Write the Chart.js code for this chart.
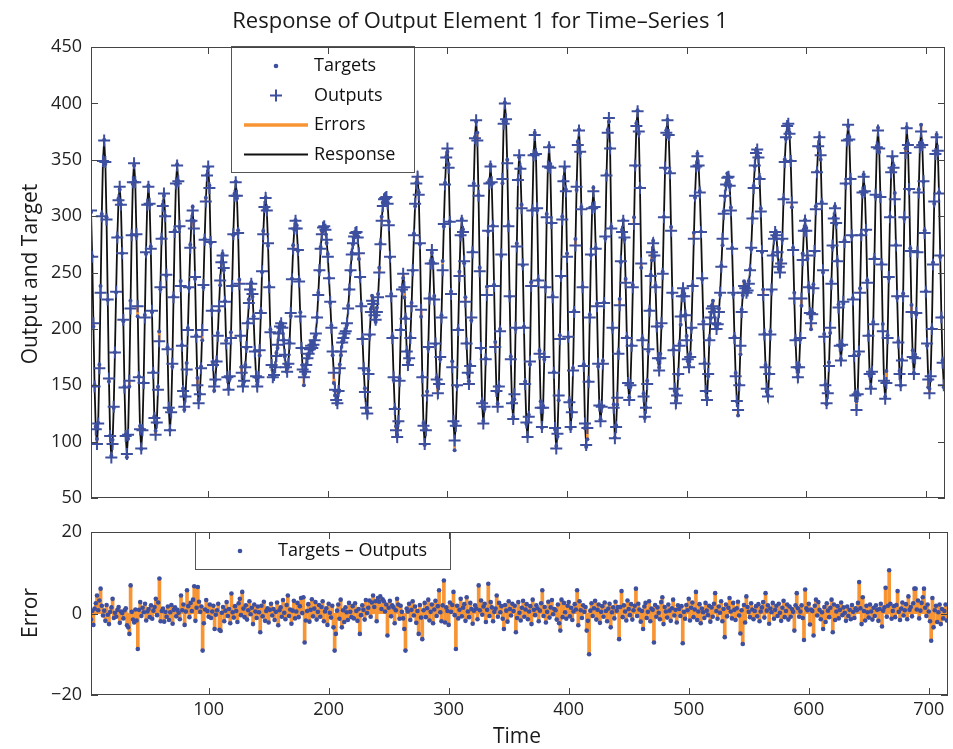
<!DOCTYPE html>
<html>
<head>
<meta charset="utf-8">
<title>Response of Output Element 1 for Time-Series 1</title>
<script src="https://cdn.jsdelivr.net/npm/chart.js@4.4.1/dist/chart.umd.min.js"></script>
<style>
  html, body { margin: 0; padding: 0; background: #fff; }
  #wrap { position: relative; width: 953px; height: 749px; }
  #wrap canvas { position: absolute; left: 0; top: 0; }
</style>
</head>
<body>
<div id="wrap">
  <canvas id="responseChart" width="953" height="749"></canvas>
  <canvas id="errorChart" width="953" height="749"></canvas>
</div>
<script>
const FONT = "'Open Sans', 'DejaVu Sans', sans-serif";
const BLUE = "#3d4f9f";
const ORANGE = "#f79433";

// time of the first sample
const firstTime = 2;

// network outputs, one per time step
const outputs = [
  305, 264, 205, 149, 111, 98,
  116, 165, 232, 300, 349, 367,
  348, 297, 226, 156, 105, 86,
  98, 131, 179, 233, 281, 314, 326,
  310, 267, 208, 148, 105, 89,
  106, 154, 218, 283, 330, 347,
  330, 284, 220, 157, 111, 94,
  110, 152, 210, 268, 310, 326,
  311, 271, 216, 161, 121, 106,
  117, 146, 189, 237, 280, 309, 320,
  300, 248, 182, 130, 110,
  126, 169, 228, 286, 329, 345,
  331, 291, 238, 185, 145, 131,
  140, 164, 199, 237, 272, 296, 305,
  289, 246, 193, 150, 134,
  142, 165, 199, 239, 279, 313, 336, 344,
  325, 277, 216, 168, 149,
  155, 171, 194, 220, 243, 259, 265,
  254, 224, 187, 157, 146,
  158, 192, 238, 284, 318, 330,
  318, 285, 240, 194, 161, 149,
  154, 166, 184, 205, 223, 235, 240,
  231, 209, 180, 158, 149,
  157, 181, 214, 251, 284, 308, 316,
  305, 276, 237, 197, 168, 157,
  159, 166, 176, 186, 196, 202, 205,
  201, 190, 177, 166, 162,
  169, 187, 214, 244, 271, 289, 296,
  289, 270, 242, 211, 183, 164, 157,
  162, 168, 174, 178, 182, 185, 183, 186, 190, 196, 210, 230, 252, 271, 284, 290, 291,
  288, 279, 264, 245, 224, 201, 180, 161, 146, 137, 134,
  145, 165, 180, 188, 192, 196, 198, 205, 218, 235, 252, 266, 276, 282, 285, 286,
  281, 267, 246, 220, 191, 165, 144, 130, 125,
  160, 195, 215, 225, 222, 212, 208, 215, 228, 250, 275, 296, 309, 315, 316, 317,
  311, 292, 264, 229, 192, 157, 129, 110, 104,
  118, 154, 199, 235, 249,
  237, 209, 180, 168,
  174, 192, 220, 252, 283, 311, 329, 335,
  319, 276, 217, 157, 114, 98,
  110, 141, 184, 227, 258, 270,
  258, 226, 187, 155, 143,
  151, 175, 210, 252, 293, 328, 352, 360,
  343, 295, 231, 166, 118, 101,
  114, 150, 199, 247, 283, 296,
  286, 260, 224, 187, 161, 151,
  167, 210, 268, 327, 369, 385,
  367, 318, 251, 183, 134, 116,
  131, 173, 230, 287, 329, 344,
  330, 291, 238, 184, 145, 131,
  149, 198, 266, 333, 382, 400,
  386, 347, 291, 229, 173, 134, 120,
  142, 201, 273, 332, 354,
  342, 307, 257, 201, 151, 117, 104,
  122, 171, 238, 305, 354, 372,
  355, 307, 243, 178, 130, 113,
  130, 175, 237, 299, 344, 361,
  343, 294, 228, 161, 112, 94,
  107, 141, 191, 247, 297, 331, 344,
  322, 264, 193, 135, 113,
  126, 163, 215, 274, 326, 363, 376,
  357, 306, 237, 167, 116, 97,
  112, 153, 210, 266, 307, 322,
  308, 271, 220, 169, 132, 118,
  131, 169, 223, 282, 336, 374, 387,
  360, 289, 201, 130, 103,
  113, 139, 178, 221, 260, 286, 296,
  281, 241, 192, 152, 137,
  150, 185, 237, 293, 345, 380, 393,
  375, 325, 258, 190, 140, 122,
  130, 151, 182, 216, 247, 268, 276,
  265, 237, 202, 174, 163,
  174, 205, 249, 299, 343, 374, 385,
  372, 338, 287, 232, 181, 147, 134,
  141, 160, 185, 211, 229, 236,
  229, 212, 190, 173, 166,
  175, 201, 238, 280, 318, 344, 353,
  345, 321, 286, 245, 204, 169, 145, 137,
  160, 190, 210, 218, 220, 215, 205, 200, 204, 215, 232, 255, 280, 302, 318, 328, 334, 335,
  327, 305, 271, 232, 192, 158, 136, 128,
  150, 185, 215, 232, 238, 236, 232, 234, 240, 252, 272, 298, 325, 345, 356, 359,
  352, 333, 304, 269, 230, 195, 166, 147, 140,
  160, 195, 235, 265, 280, 286, 283, 268, 255, 250, 258, 280, 315, 348, 370, 380, 382,
  373, 349, 312, 270, 227, 190, 166, 157,
  166, 192, 227, 261, 287, 296,
  287, 265, 237, 214, 205,
  213, 236, 269, 306, 339, 362, 370,
  354, 311, 252, 193, 150, 134,
  143, 167, 201, 240, 274, 298, 307,
  294, 260, 219, 185, 172,
  186, 224, 277, 329, 367, 381,
  368, 333, 283, 226, 176, 141, 128,
  142, 180, 232, 283, 321, 335,
  322, 288, 241, 194, 160, 147,
  162, 204, 262, 319, 361, 376,
  360, 317, 257, 198, 154, 138,
  152, 192, 246, 299, 339, 353,
  343, 315, 274, 229, 188, 160, 150,
  172, 229, 299, 356, 378,
  363, 324, 269, 215, 175, 160,
  174, 214, 268, 321, 361, 375,
  363, 331, 285, 233, 187, 155, 143,
  158, 200, 257, 313, 355, 370,
  358, 320, 265, 210, 170, 150
];

// errors = targets - outputs, one per time step
const errors = [
  -1.5, 0.6, -2.8, 1.2, 2.5, 4.4, 0.8, 3.2, 6.1, 1.9,
  -0.5, 0.7, -1.8, 2.1, -0.3, -2.6, 0.4, 1.5, 3.6, -1.1,
  0.2, -0.8, 0.9, 1.6, -2.3, 0.5, 0.1, -1.2, 0.8, 1.3,
  -2.9, -3.4, -5.0, 6.9, 0.4, -1.5, -2.2, 1.0, -1.7, -8.7,
  0.9, 2.8, -0.6, 1.4, 0.3, 2.4, -1.7, 0.5, 1.1, -0.9,
  2.0, -1.3, 0.7, 1.6, 3.6, -0.4, 2.7, 8.6, -1.9, 0.6,
  1.2, -2.0, 0.4, -0.8, 1.7, -1.6, 0.3, 2.1, -2.5, 0.9,
  1.5, -0.7, 0.9, 0.2, -1.4, 4.4, 0.8, 2.2, -2.8, 0.5,
  5.7, 1.8, -0.9, 2.6, 0.6, 3.4, 6.7, -1.8, 1.4, 6.5,
  2.9, 0.4, 1.7, -9.1, -2.4, 1.0, 3.3, 0.6, -0.8, 2.2,
  -1.1, 0.5, 1.9, -3.8, -0.3, 0.8, 2.4, -4.0, -4.3, 0.2,
  1.6, -1.9, 0.7, 2.8, -0.6, 1.1, -2.4, 4.9, 0.3, -1.0,
  1.8, 0.6, -2.1, 2.5, 3.6, -0.4, 5.3, 1.2, -0.9, 2.0,
  -1.5, 0.8, 3.0, -0.2, 1.4, -2.6, 2.2, 0.5, -1.1, 1.7,
  0.3, -4.6, 1.9, -0.7, 2.9, -1.8, 0.6, 1.3, -2.2, 0.9,
  2.4, -0.5, 1.1, -1.6, 0.4, 2.7, -2.9, 0.8, 1.5, -0.8,
  3.3, 0.2, -1.4, 2.1, 4.4, -0.6, 1.0, -2.5, 0.7, 3.1,
  -1.2, 0.5, 2.6, -0.9, 1.8, 3.8, 0.1, 4.0, -7.1, -1.7,
  0.6, 2.3, -2.0, 0.9, 3.5, -0.7, 1.2, 2.8, -1.5, 0.4,
  2.1, -0.8, 1.6, 3.0, -1.9, 0.5, 1.3, -2.8, 2.4, 0.2,
  -1.0, 1.9, -3.4, -9.1, -5.0, 0.7, 2.2, -1.3, 3.4, -3.4,
  0.8, -2.1, 1.5, 0.3, -1.6, 2.6, 0.4, -0.9, 1.8, -1.2,
  2.5, 0.6, -1.8, 1.1, -5.0, -0.4, 2.0, 0.9, -1.5, 3.3,
  0.1, 1.4, 3.2, -0.8, 2.7, 4.4, 1.6, 3.0, -1.9, 3.8,
  2.9, 4.2, 1.1, 3.5, 3.0, 0.5, 2.2, -5.4, 1.4, 3.1,
  -0.7, 2.0, 1.5, -2.4, 0.8, 3.6, 2.2, -1.3, 1.9, 0.4,
  -1.2, -3.8, -9.1, 1.2, 0.5, 2.4, -1.6, 0.9, 3.0, -0.5,
  1.7, -2.3, 0.6, -5.0, 2.1, -1.0, -6.3, 0.8, 2.6, -0.9,
  1.3, 3.4, -1.7, 0.4, 2.2, -2.4, 1.0, 3.1, -0.6, 1.8,
  5.7, 0.3, -1.9, 2.0, 8.1, -2.2, 1.5, 0.6, -2.8, 2.7,
  0.4, 2.1, 5.3, -0.4, -8.7, 1.9, -1.2, 0.9, 3.6, -0.7,
  1.4, 2.3, -1.8, 4.0, 0.5, -0.9, 2.6, 1.1, -2.5, 0.7,
  2.0, 1.2, -1.4, 6.9, 0.8, 3.2, -0.3, 1.7, 2.4, -2.1,
  0.9, 7.3, -0.6, 2.8, 1.5, -1.9, 0.4, 1.2, 4.4, -0.8,
  2.6, 0.3, 1.8, -1.3, -3.8, 2.1, 0.7, -2.0, 3.0, 1.1,
  -0.5, 2.4, 0.6, 1.9, -4.6, -1.1, 2.8, 0.2, -1.7, 1.4,
  3.1, -0.8, 1.0, 2.3, -1.4, 0.5, 1.8, -2.6, 3.4, 0.9,
  -0.4, 2.0, 1.3, -1.9, 0.7, 2.5, 5.7, -0.6, 1.6, -2.2,
  0.4, 2.9, -1.0, 1.5, 3.3, -0.2, 1.1, 0.8, -1.5, 2.2,
  -2.4, -4.2, 3.4, -0.9, 2.6, 0.3, -1.3, 1.9, 2.8, -0.7,
  1.4, -1.6, 0.5, 2.3, 1.0, 5.7, -2.9, 3.0, 0.8, -1.1,
  2.0, 0.4, 1.6, -4.2, -1.8, -10.0, 0.7, 2.5, -0.6, 1.3,
  3.1, -1.5, 0.9, 2.2, -2.3, 0.4, 1.8, -0.8, 2.7, 0.6,
  -1.9, 1.2, 2.4, -3.4, 0.3, 1.5, -1.2, 2.9, 0.7, 1.6,
  -6.3, 1.6, 5.5, -0.9, 2.0, 0.5, -1.7, 3.2, 1.1, -0.4,
  2.3, -1.5, 0.8, 1.9, 6.1, -0.6, 2.4, 1.0, -2.0, 0.6,
  -3.8, 1.7, 2.6, -1.1, 0.4, 3.0, -1.9, 1.2, 0.9, -7.1,
  2.1, -0.8, 1.5, 0.2, -1.4, 2.8, 4.0, -2.6, 1.6, 0.5,
  -1.0, 2.2, 0.7, -1.8, 1.3, 3.4, -0.5, 0.9, -2.2, 2.0,
  1.1, -0.6, 1.8, -7.3, 0.4, -1.3, 2.1, 0.8, 3.6, -1.7,
  1.4, 2.7, -0.9, 1.0, 5.3, -1.6, 0.5, 2.3, -2.4, 1.2,
  0.3, -1.1, 2.6, 0.7, -0.4, 1.9, -2.0, 1.5, -0.8, 2.4,
  5.0, 0.6, -1.3, 1.7, 0.2, 3.0, -1.9, 1.1, -5.8, 2.2,
  -0.7, 1.4, 3.8, 0.5, -1.2, 2.6, 0.9, -1.6, 1.3, 2.9,
  -0.5, -4.9, 0.8, -7.5, 2.1, -2.2, 4.2, 1.6, 0.4, -0.9,
  2.5, 1.0, -1.4, 0.6, 1.8, -0.7, 2.3, -1.9, 0.5, 1.5,
  2.8, -1.0, 5.0, 0.7, 2.0, -2.5, 1.2, 0.3, 2.6, -1.3,
  0.9, 1.9, -0.6, 2.4, 0.2, -1.8, 1.4, 3.1, -0.9, 0.6,
  2.2, -1.5, 1.7, -0.8, 1.1, 0.4, -4.2, 2.0, 5.0, 1.3,
  -0.8, 0.5, 2.0, -1.1, -6.5, 5.9, 1.3, 0.8, 2.4, -2.7,
  1.0, 0.6, -5.4, 1.9, 3.4, -0.5, 2.8, 0.9, -1.4, 0.3,
  -3.8, 1.6, -2.1, 2.5, 0.7, -0.9, 1.4, 3.4, -4.6, 2.2,
  -1.6, 0.5, 1.8, -1.2, 0.9, 2.7, -0.4, 1.5, 0.2, -1.8,
  1.7, -0.6, 0.9, -1.4, 2.1, 0.4, -1.1, 1.3, 0.8, 2.6,
  7.7, 1.3, -2.6, 4.0, 0.6, -1.7, 1.9, 0.3, -1.0, 2.2,
  0.5, -1.5, 1.4, -0.6, 2.0, 0.9, -1.8, 1.1, 2.4, -3.2,
  0.7, 1.5, 6.3, -0.8, 1.9, 10.6, 2.4, -1.3, 0.6, 1.8,
  -0.9, 2.1, 5.5, 0.4, -1.6, 1.2, 2.7, -0.5, 0.8, 2.3,
  -1.4, 4.2, 0.9, 1.6, -0.7, 2.5, 6.1, 6.1, 1.0, 3.2,
  -1.2, 0.7, 2.6, 4.0, 6.1, 1.4, -0.6, 2.2, 0.5, -1.9,
  -6.7, 3.8, -3.4, 0.8, 1.9, -2.1, 0.3, 2.2, -2.6, 1.1,
  -1.2, 0.6, 2.2, -1.7
];

const timeTicks = [100, 200, 300, 400, 500, 600, 700];
const responseTicks = [50, 100, 150, 200, 250, 300, 350, 400, 450];
const errorTicks = [-20, 0, 20];
const responseLegend = ["Targets", "Outputs", "Errors", "Response"];
const errorLegend = ["Targets \u2013 Outputs"];

const times = outputs.map((v, i) => firstTime + i);
const targets = outputs.map((v, i) => v + (errors[i] || 0));

// MATLAB style box with inward ticks, titles and a boxed legend
function matlabFrame(opts) {
    return {
        id: "matlabFrame",
        afterDatasetsDraw(chart) {
            const ctx = chart.ctx;
            const lg = opts.legend;
            ctx.save();
            ctx.fillStyle = "#fff";
            ctx.fillRect(lg.x, lg.y, lg.w, lg.h);
            ctx.strokeStyle = "#555";
            ctx.lineWidth = 1;
            ctx.strokeRect(lg.x + 0.5, lg.y + 0.5, lg.w, lg.h);
            ctx.font = "18px " + FONT;
            ctx.textBaseline = "middle";
            ctx.fillStyle = "#111";
            lg.items.forEach((item, i) => {
                const y = lg.firstY + i * lg.step;
                const cx = lg.iconX;
                if (item.kind === "dot") {
                    ctx.fillStyle = BLUE;
                    ctx.beginPath();
                    ctx.arc(cx, y, 2.3, 0, Math.PI * 2);
                    ctx.fill();
                } else if (item.kind === "plus") {
                    ctx.strokeStyle = BLUE;
                    ctx.lineWidth = 2;
                    ctx.beginPath();
                    ctx.moveTo(cx - 6, y); ctx.lineTo(cx + 6, y);
                    ctx.moveTo(cx, y - 6); ctx.lineTo(cx, y + 6);
                    ctx.stroke();
                } else {
                    ctx.strokeStyle = item.kind === "orange" ? ORANGE : "#111";
                    ctx.lineWidth = item.kind === "orange" ? 3.5 : 2;
                    ctx.beginPath();
                    ctx.moveTo(cx - 32, y); ctx.lineTo(cx + 32, y);
                    ctx.stroke();
                }
                ctx.fillStyle = "#111";
                ctx.textAlign = "left";
                ctx.fillText(item.label, lg.textX, y);
            });
            ctx.restore();
        },
        afterDraw(chart) {
            const {ctx, chartArea: a, scales} = chart;
            const tl = 7;
            ctx.save();
            ctx.strokeStyle = "#444";
            ctx.lineWidth = 1;
            ctx.strokeRect(Math.round(a.left) + 0.5, Math.round(a.top) + 0.5,
                Math.round(a.right - a.left) - 1, Math.round(a.bottom - a.top) - 1);
            ctx.beginPath();
            scales.x.ticks.forEach(t => {
                const px = Math.round(scales.x.getPixelForValue(t.value)) + 0.5;
                ctx.moveTo(px, a.bottom); ctx.lineTo(px, a.bottom - tl);
                ctx.moveTo(px, a.top); ctx.lineTo(px, a.top + tl);
            });
            scales.y.ticks.forEach(t => {
                const py = Math.round(scales.y.getPixelForValue(t.value)) + 0.5;
                ctx.moveTo(a.left, py); ctx.lineTo(a.left + tl, py);
                ctx.moveTo(a.right, py); ctx.lineTo(a.right - tl, py);
            });
            ctx.stroke();

            ctx.fillStyle = "#1a1a1a";
            ctx.textAlign = "center";
            ctx.textBaseline = "middle";
            if (opts.title) {
                ctx.font = "22px " + FONT;
                ctx.fillText(opts.title, 480, 22);
            }
            ctx.font = "21px " + FONT;
            if (opts.xTitle) ctx.fillText(opts.xTitle, 517, 737);
            ctx.save();
            ctx.translate(31, opts.yTitleY);
            ctx.rotate(-Math.PI / 2);
            ctx.fillText(opts.yTitle, 0, 0);
            ctx.restore();
            ctx.restore();
        }
    };
}

function baseScales(yMin, yMax, yTickValues, top, bottom) {
    return {
        x: {
            type: "linear", min: 2, max: 716, offset: false,
            grid: { display: false, drawTicks: false }, border: { display: false },
            ticks: {
                display: bottom === 695, font: { family: FONT, size: 18 }, color: "#222", padding: 4,
                maxRotation: 0
            },
            afterBuildTicks: s => { s.ticks = timeTicks.map(v => ({ value: v })); },
            afterFit: s => { s.height = 749 - bottom; }
        },
        y: {
            type: "linear", min: yMin, max: yMax, beginAtZero: false,
            grid: { display: false, drawTicks: false }, border: { display: false },
            ticks: {
                font: { family: FONT, size: 18 }, color: "#222", padding: 9,
                callback: v => String(v).replace("-", "\u2212")
            },
            afterBuildTicks: s => { s.ticks = yTickValues.map(v => ({ value: v })); },
            afterFit: s => { s.width = 91; }
        }
    };
}

// upper panel: response
new Chart(document.getElementById("responseChart"), {
    type: "line",
    data: {
        datasets: [
            {
                type: "line", label: "Response",
                data: times.map((t, i) => ({ x: t, y: outputs[i] })),
                borderColor: "#111", borderWidth: 1.8, pointRadius: 0, order: 4
            },
            {
                type: "bar", label: "Errors",
                data: times.map((t, i) => ({ x: t, y: [outputs[i], targets[i]] })),
                backgroundColor: ORANGE, barThickness: 2, order: 3
            },
            {
                type: "line", label: "Targets", showLine: false,
                data: times.map((t, i) => ({ x: t, y: targets[i] })),
                pointRadius: 2, pointBackgroundColor: BLUE, pointBorderWidth: 0, order: 2
            },
            {
                type: "line", label: "Outputs", showLine: false,
                data: times.map((t, i) => ({ x: t, y: outputs[i] })),
                pointStyle: "cross", pointRadius: 6, pointBorderColor: BLUE,
                pointBorderWidth: 2, order: 1
            }
        ]
    },
    options: {
        responsive: false, animation: false, devicePixelRatio: 1,
        layout: { padding: { top: 47, right: 5, left: 0, bottom: 0 } },
        plugins: { legend: { display: false }, tooltip: { enabled: false }, title: { display: false } },
        scales: baseScales(50, 450, responseTicks, 47, 498)
    },
    plugins: [matlabFrame({
        title: "Response of Output Element 1 for Time\u2013Series 1",
        yTitle: "Output and Target", yTitleY: 274,
        legend: {
            x: 231, y: 46, w: 183, h: 126, iconX: 276, textX: 314, firstY: 66, step: 29.5,
            items: [
                { kind: "dot", label: responseLegend[0] },
                { kind: "plus", label: responseLegend[1] },
                { kind: "orange", label: responseLegend[2] },
                { kind: "black", label: responseLegend[3] }
            ]
        }
    })]
});

// lower panel: errors
new Chart(document.getElementById("errorChart"), {
    type: "line",
    data: {
        datasets: [
            {
                type: "bar", label: "Errors",
                data: times.map((t, i) => ({ x: t, y: errors[i] })),
                backgroundColor: ORANGE, barThickness: 3, order: 2
            },
            {
                type: "line", label: "Targets - Outputs", showLine: false,
                data: times.map((t, i) => ({ x: t, y: errors[i] })),
                pointRadius: 2.3, pointBackgroundColor: BLUE, pointBorderWidth: 0, order: 1
            }
        ]
    },
    options: {
        responsive: false, animation: false, devicePixelRatio: 1,
        layout: { padding: { top: 532, right: 5, left: 0, bottom: 0 } },
        plugins: { legend: { display: false }, tooltip: { enabled: false }, title: { display: false } },
        scales: baseScales(-20, 20, errorTicks, 532, 695)
    },
    plugins: [matlabFrame({
        xTitle: "Time",
        yTitle: "Error", yTitleY: 613,
        legend: {
            x: 195, y: 532, w: 255, h: 37, iconX: 240, textX: 278, firstY: 551, step: 0,
            items: [{ kind: "dot", label: errorLegend[0] }]
        }
    })]
});
</script>
</body>
</html>
